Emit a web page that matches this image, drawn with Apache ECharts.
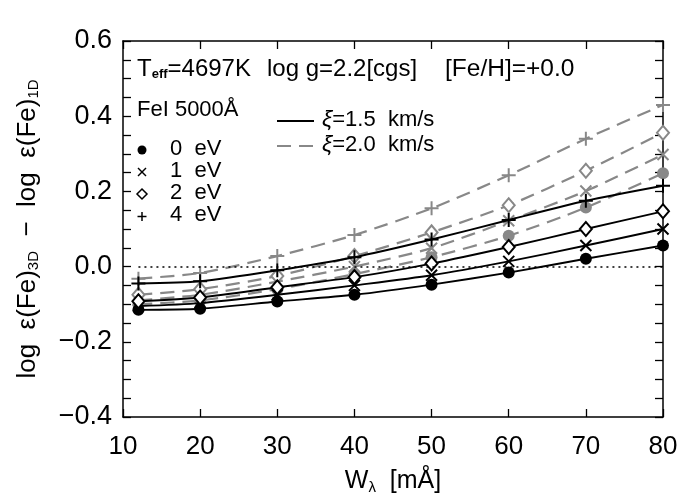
<!DOCTYPE html>
<html><head><meta charset="utf-8">
<script src="https://cdn.jsdelivr.net/npm/echarts@6/dist/echarts.min.js"></script>
<style>html,body{margin:0;padding:0;background:#fff}#c{width:700px;height:500px}</style>
</head><body><div id="c"></div>
<script>
const xVals = [12, 20, 30, 40, 50, 60, 70, 80];
// xi = 1.5 km/s (solid black)
const s15_0eV = [-0.115, -0.112, -0.093, -0.075, -0.048, -0.016, 0.021, 0.056];
const s15_1eV = [-0.105, -0.097, -0.075, -0.050, -0.023, 0.014, 0.056, 0.100];
const s15_2eV = [-0.092, -0.082, -0.055, -0.028, 0.008, 0.052, 0.100, 0.147];
const s15_4eV = [-0.045, -0.039, -0.010, 0.025, 0.072, 0.124, 0.175, 0.215];
// xi = 2.0 km/s (dashed grey)
const s20_0eV = [-0.100, -0.090, -0.060, -0.020, 0.025, 0.082, 0.157, 0.248];
const s20_1eV = [-0.090, -0.075, -0.040, 0.000, 0.049, 0.122, 0.201, 0.298];
const s20_2eV = [-0.075, -0.060, -0.025, 0.028, 0.091, 0.163, 0.255, 0.356];
const s20_4eV = [-0.032, -0.017, 0.028, 0.084, 0.155, 0.243, 0.340, 0.430];
const xTicks = [10, 20, 30, 40, 50, 60, 70, 80];
const yTicks = [-0.4, -0.2, 0.0, 0.2, 0.4, 0.6];

const FONT = 'Liberation Sans';
const GREY = '#888888';
const SYM = {
  circle: {symbol: 'circle', size: 12, filled: true},
  cross: {symbol: 'path://M0,0L10,10M0,10L10,0', size: 11, filled: false},
  diamond: {symbol: 'diamond', size: [12, 14], filled: false},
  plus: {symbol: 'path://M5,0L5,10M0,5L10,5', size: 14, filled: false}
};
function mk(vals, sym, color, dashed) {
  const s = SYM[sym];
  return {
    type: 'line', data: xVals.map((x, i) => [x, vals[i]]),
    smooth: 0.25, symbol: s.symbol, symbolSize: s.size, showSymbol: true,
    lineStyle: {color: color, width: dashed ? 2.2 : 1.9, type: dashed ? [14, 8] : 'solid'},
    itemStyle: {color: s.filled ? color : (sym === 'diamond' ? '#fff' : 'none'),
                borderColor: color, borderWidth: s.filled ? 0 : 2},
    z: dashed ? 2 : 3, silent: true, animation: false
  };
}
const series = [
  mk(s20_0eV, 'circle', GREY, true), mk(s20_1eV, 'cross', GREY, true),
  mk(s20_2eV, 'diamond', GREY, true), mk(s20_4eV, 'plus', GREY, true),
  mk(s15_0eV, 'circle', '#000', false), mk(s15_1eV, 'cross', '#000', false),
  mk(s15_2eV, 'diamond', '#000', false), mk(s15_4eV, 'plus', '#000', false)
];
series[0].markLine = {silent: true, symbol: 'none', label: {show: false},
  lineStyle: {color: '#000', type: [2, 4], width: 1.6},
  data: [[{coord: [xVals[0], 0]}, {coord: [xVals[xVals.length - 1], 0]}]]};

const axLine = {show: true, onZero: false, lineStyle: {color: '#000', width: 1.5}};
const tick = {show: true, inside: true, length: 8, lineStyle: {color: '#000', width: 1.3}};
const minor = {show: true, splitNumber: 4, length: 8, lineStyle: {color: '#000', width: 1.3}};
const fmtY = v => (v < 0 ? '\u2212' : '') + Math.abs(v).toFixed(1);
const T = 24, L = 22;

const chart = echarts.init(document.getElementById('c'));
chart.setOption({
  animation: false,
  grid: {left: 123, right: 37, top: 41, bottom: 81},
  xAxis: [
    {type: 'value', min: xTicks[0], max: xTicks[xTicks.length - 1], interval: 10,
     axisLine: axLine, axisTick: tick, splitLine: {show: false},
     axisLabel: {color: '#000', fontSize: 26, fontFamily: FONT, margin: 17},
     name: 'W{s|\u03bb}  [m\u00c5]', nameLocation: 'middle', nameGap: 51,
     nameTextStyle: {color: '#000', fontSize: 25, fontFamily: FONT,
       rich: {s: {fontSize: 15, fontFamily: FONT, padding: [12, 0, 0, 0]}}}},
    {type: 'value', position: 'top', min: xTicks[0], max: xTicks[xTicks.length - 1], interval: 10,
     axisLine: axLine, axisTick: tick, splitLine: {show: false}, axisLabel: {show: false}}
  ],
  yAxis: [
    {type: 'value', min: yTicks[0], max: yTicks[yTicks.length - 1], interval: 0.2,
     axisLine: axLine, axisTick: tick, minorTick: minor, splitLine: {show: false},
     axisLabel: {color: '#000', fontSize: 27, fontFamily: FONT, margin: 11, formatter: fmtY},
     name: 'log  \u03b5(Fe){s|3D}  \u2212  log  \u03b5(Fe){s|1D}', nameLocation: 'middle', nameGap: 82,
     nameTextStyle: {color: '#000', fontSize: 26, fontFamily: FONT,
       rich: {s: {fontSize: 15, fontFamily: FONT, padding: [12, 0, 0, 0]}}}},
    {type: 'value', position: 'right', min: yTicks[0], max: yTicks[yTicks.length - 1], interval: 0.2,
     axisLine: axLine, axisTick: tick, minorTick: minor, splitLine: {show: false}, axisLabel: {show: false}}
  ],
  series: series,
  graphic: [
    {type: 'text', left: 137, top: 57, style: {
      text: 'T{s|eff}=4697K', fill: '#000', fontSize: T, fontFamily: FONT,
      rich: {s: {fontSize: 13, fontWeight: 'bold', fontFamily: FONT, padding: [11, 0, 0, 0]}}}},
    {type: 'text', left: 267, top: 57, style: {text: 'log g=2.2[cgs]', fill: '#000', fontSize: T, fontFamily: FONT}},
    {type: 'text', left: 445, top: 57, style: {text: '[Fe/H]=+0.0', fill: '#000', fontSize: 24.5, fontFamily: FONT}},
    {type: 'text', left: 137, top: 99, style: {text: 'FeI 5000\u00c5', fill: '#000', fontSize: L, fontFamily: FONT}},
    {type: 'circle', shape: {cx: 142, cy: 150, r: 4.5}, style: {fill: '#000'}},
    {type: 'text', left: 170, top: 138, style: {text: '0  eV', fill: '#000', fontSize: L, fontFamily: FONT}},
    {type: 'polyline', shape: {points: [[138, 168], [146, 176]]}, style: {stroke: '#000', lineWidth: 1.5}},
    {type: 'polyline', shape: {points: [[138, 176], [146, 168]]}, style: {stroke: '#000', lineWidth: 1.5}},
    {type: 'text', left: 170, top: 160, style: {text: '1  eV', fill: '#000', fontSize: L, fontFamily: FONT}},
    {type: 'polygon', shape: {points: [[142, 189], [147, 194], [142, 199], [137, 194]]}, style: {fill: '#fff', stroke: '#000', lineWidth: 1.5}},
    {type: 'text', left: 170, top: 182, style: {text: '2  eV', fill: '#000', fontSize: L, fontFamily: FONT}},
    {type: 'polyline', shape: {points: [[142, 212], [142, 221]]}, style: {stroke: '#000', lineWidth: 1.5}},
    {type: 'polyline', shape: {points: [[137.5, 216.5], [146.5, 216.5]]}, style: {stroke: '#000', lineWidth: 1.5}},
    {type: 'text', left: 170, top: 204, style: {text: '4  eV', fill: '#000', fontSize: L, fontFamily: FONT}},
    {type: 'polyline', shape: {points: [[277, 121], [314, 121]]}, style: {stroke: '#000', lineWidth: 1.9}},
    {type: 'text', left: 322, top: 108, style: {text: '{i|\u03be}=1.5  km/s', fill: '#000', fontSize: L, fontFamily: FONT,
      rich: {i: {fontStyle: 'italic', fontSize: 23, fontFamily: FONT}}}},
    {type: 'polyline', shape: {points: [[277, 146], [314, 146]]}, style: {stroke: GREY, lineWidth: 2.2, lineDash: [14, 8]}},
    {type: 'text', left: 322, top: 133, style: {text: '{i|\u03be}=2.0  km/s', fill: '#000', fontSize: L, fontFamily: FONT,
      rich: {i: {fontStyle: 'italic', fontSize: 23, fontFamily: FONT}}}}
  ]
});
</script></body></html>
